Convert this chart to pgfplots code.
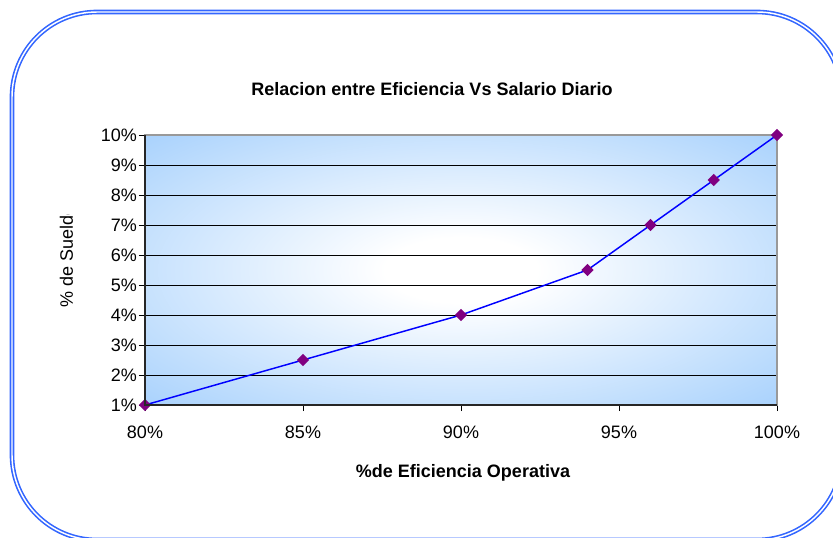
\documentclass[border=0pt]{standalone}
\usepackage{pgfplots}
\pgfplotsset{compat=1.18}
\usepackage{fontspec}
\setmainfont{Liberation Sans}
\definecolor{bgblue}{RGB}{150,200,252}
\definecolor{frameblue}{RGB}{51,102,255}
\definecolor{markpurple}{RGB}{128,0,128}
\pgfdeclareradialshading{plotbg}{\pgfpoint{0bp}{0bp}}{color(0bp)=(white); color(6bp)=(white); color(42bp)=(bgblue); color(50bp)=(bgblue)}
\begin{document}
\begin{tikzpicture}
\useasboundingbox (-108.75pt,-99pt) rectangle (516pt,303.75pt);
\begin{scope}
\clip (-108.75pt,-99pt) rectangle (516pt,303.75pt);
\draw[frameblue, line width=1.2pt, double=white, double distance=1.1pt, rounded corners=63.75pt] (-99.75pt,294.75pt) rectangle (522.75pt,-101.25pt);
\end{scope}
\begin{axis}[
  at={(0,0)}, anchor=south west,
  scale only axis, width=474pt, height=202.5pt,
  xmin=80, xmax=100, ymin=1, ymax=10,
  xtick={80,85,90,95,100},
  xticklabels={80\%,85\%,90\%,95\%,100\%},
  ytick={1,2,3,4,5,6,7,8,9,10},
  yticklabels={1\%,2\%,3\%,4\%,5\%,6\%,7\%,8\%,9\%,10\%},
  tick label style={font=\fontsize{13.5pt}{15pt}\selectfont},
  xticklabel style={yshift=-8pt},
  yticklabel style={xshift=2pt},
  tick align=outside, major tick length=4.5pt,
  xtick pos=bottom, ytick pos=left,
  tick style={black, line width=0.6pt},
  ymajorgrids, grid style={black, line width=0.6pt},
  axis line style={gray!80, line width=0.8pt},
  axis background/.style={shading=plotbg},
  clip=false,
  after end axis/.code={\draw[black!85, line width=0.8pt] (rel axis cs:0,1) -- (rel axis cs:0,0) -- (rel axis cs:1,0);},
]
\addplot[blue, line width=1.1pt, mark=square*, mark size=2.7pt, mark options={rotate=45, fill=markpurple, draw=markpurple}]
  coordinates {(80,1) (85,2.5) (90,4) (94,5.5) (96,7) (98,8.5) (100,10)};
\end{axis}
\node[anchor=base, font=\bfseries\fontsize{13.5pt}{15pt}\selectfont] at (215.25pt,232.5pt) {Relacion entre Eficiencia Vs Salario Diario};
\node[anchor=base, font=\bfseries\fontsize{13.5pt}{15pt}\selectfont] at (238.5pt,-54pt) {\%de Eficiencia Operativa};
\begin{scope}
\clip (-100pt,-20pt) rectangle (0pt,143pt);
\node[anchor=base west, rotate=90, inner sep=0pt, font=\fontsize{13.5pt}{15pt}\selectfont] at (-54pt,72.75pt) {\% de Sueldo};
\end{scope}
\end{tikzpicture}
\end{document}
